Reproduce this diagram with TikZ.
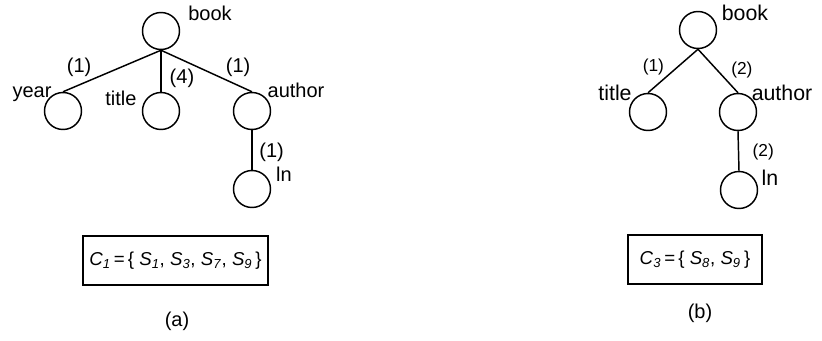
\documentclass[tikz,border=0pt]{standalone}
\usepackage{fontspec}
\setmainfont{Liberation Sans}
\usepackage{tikz}
\usetikzlibrary{positioning}
\tikzstyle{e}      = [draw, line width=1.1pt]
\tikzstyle{o}      = [draw, circle, line width=1.1pt, minimum size=27.75pt, inner sep=0pt]
\tikzstyle{lbl}    = [inner sep=0pt, anchor=base, font=\fontsize{15}{18}\selectfont]
\tikzstyle{blbl}   = [inner sep=0pt, anchor=base, font=\fontsize{16}{19}\selectfont]
\tikzstyle{cnt}    = [inner sep=1pt, font=\fontsize{15}{18}\selectfont]
\tikzstyle{bcnt}   = [inner sep=1pt, font=\fontsize{13}{16}\selectfont]
\tikzstyle{setbox} = [draw, line width=1.1pt, inner sep=0pt, minimum height=36.75pt,
                      font=\fontsize{14}{17}\selectfont]
\newcommand{\setelem}[2]{\textit{#1}\textsubscript{\textit{#2}}}

\begin{document}
\begin{tikzpicture}[x=0.75pt, y=-0.75pt]
\useasboundingbox (0,0) rectangle (822,340);

% nodes (a)
\node [o] at (161,  31) (abook)   {};
\node [o] at ( 63, 111) (ayear)   {};
\node [o] at (161, 111) (atitle)  {};
\node [o] at (252, 111) (aauthor) {};
\node [o] at (252, 189) (aln)     {};

\node [lbl] at (210,  20) (abooklbl)   {book};
\node [lbl] at ( 32,  97) (ayearlbl)   {year};
\node [lbl] at (121, 105) (atitlelbl)  {title};
\node [lbl] at (296,  97) (aauthorlbl) {author};
\node [lbl] at (284, 181) (alnlbl)     {ln};

% edges (a)
\path [e] (abook.south)   edge node[cnt, pos=0.69, anchor=south east]      {(1)} (ayear.north)
          (abook.south)   edge node[cnt, pos=0.67, anchor=west, xshift=5pt] {(4)} (atitle.north)
          (abook.south)   edge node[cnt, pos=0.69, anchor=south west]      {(1)} (aauthor.north)
          (aauthor.south) edge node[cnt, pos=0.55, anchor=west, xshift=4pt] {(1)} (aln.north);

\node [setbox, minimum width=138.75pt] at (175.5, 260.5) (aset)
  {\setelem{C}{1}\,=\,\{ \setelem{S}{1}, \setelem{S}{3}, \setelem{S}{7}, \setelem{S}{9}\,\}};
\node [lbl] at (177, 326) (acap) {(a)};

% nodes (b)
\node [o] at (698,  30) (bbook)   {};
\node [o] at (648, 112) (btitle)  {};
\node [o] at (738, 112) (bauthor) {};
\node [o] at (739, 190) (bln)     {};

\node [blbl] at (745,  20) (bbooklbl)   {book};
\node [blbl] at (615, 100) (btitlelbl)  {title};
\node [blbl] at (782, 100) (bauthorlbl) {author};
\node [blbl] at (770, 185) (blnlbl)     {ln};

% edges (b)
\path [e] (bbook.south)   edge node[bcnt, pos=0.64, anchor=south east]      {(1)} (btitle.north)
          (bbook.south)   edge node[bcnt, pos=0.48, anchor=west, xshift=9pt] {(2)} (bauthor.north)
          (bauthor.south) edge node[bcnt, pos=0.52, anchor=west, xshift=9pt] {(2)} (bln.north);

\node [setbox, minimum width=100.5pt] at (695, 259.5) (bset)
  {\setelem{C}{3}\,=\,\{ \setelem{S}{8}, \setelem{S}{9}\,\}};
\node [lbl] at (700, 318) (bcap) {(b)};

\end{tikzpicture}
\end{document}
